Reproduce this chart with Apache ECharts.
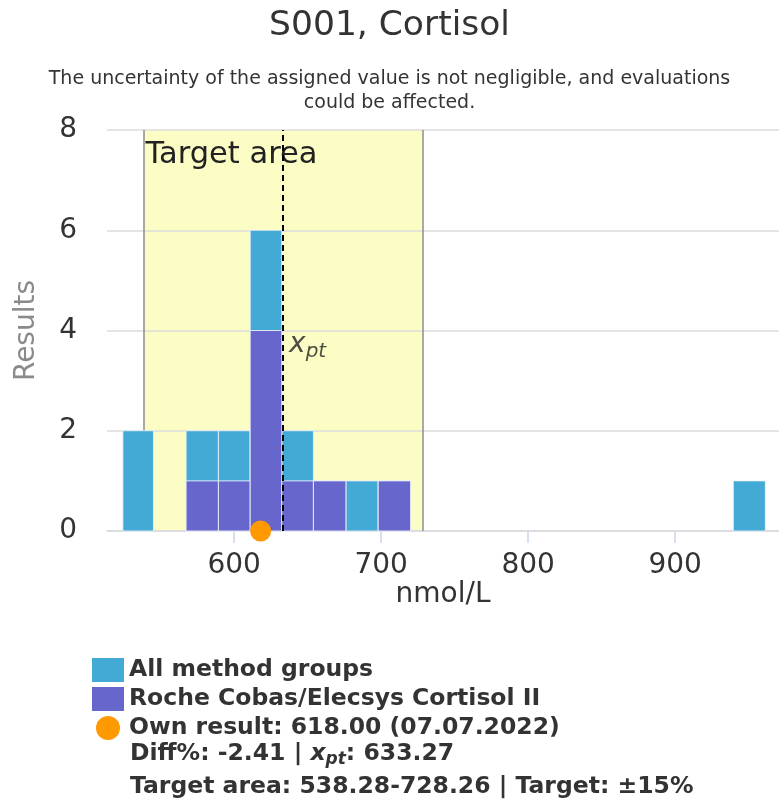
<!DOCTYPE html>
<html>
<head>
<meta charset="utf-8">
<script src="https://cdn.jsdelivr.net/npm/echarts@6/dist/echarts.min.js"></script>
<style>
html,body{margin:0;padding:0;background:#fff;}
#chart{width:779px;height:810px;}
</style>
</head>
<body>
<div id="chart"></div>
<script>
// ---- data ----
const binLow  = [524.3, 567.3, 589.3, 610.9, 632.4, 653.9, 676.0, 698.0, 939.5];
const binHigh = [545.1, 589.3, 610.9, 632.4, 653.9, 676.0, 698.0, 720.0, 961.3];
const allCounts   = [2, 2, 2, 6, 2, 1, 1, 1, 1];
const rocheCounts = [0, 1, 1, 4, 1, 1, 0, 1, 0];
const xTicks = [600, 700, 800, 900];
const yTicks = [0, 2, 4, 6, 8];
const ownResult = 618.00;
const ownDate = '07.07.2022';
const xpt = 633.27;
const diffPct = -2.41;
const targetLow = 538.28;
const targetHigh = 728.26;
const targetPct = 15;
const seriesNames = ['All method groups', 'Roche Cobas/Elecsys Cortisol II'];

const FONT = 'DejaVu Sans';
const ownName = 'Own result: ' + ownResult.toFixed(2) + ' (' + ownDate + ')';

function histData(counts) {
  return binLow.map((lo, i) => [lo, binHigh[i], counts[i]]);
}
function renderBar(params, api) {
  const v = api.value(2);
  if (!v) return null;
  const p0 = api.coord([api.value(0), v]);
  const p1 = api.coord([api.value(1), 0]);
  return {
    type: 'rect',
    shape: { x: p0[0], y: p0[1], width: p1[0] - p0[0], height: p1[1] - p0[1] },
    style: { fill: api.visual('color'), stroke: 'rgba(235,240,248,0.9)', lineWidth: 1 }
  };
}

const chart = echarts.init(document.getElementById('chart'), null, { renderer: 'canvas' });
const option = {
  animation: false,
  textStyle: { fontFamily: FONT },
  title: [
    { text: 'S001, Cortisol', left: 'center', top: 4,
      textStyle: { fontFamily: FONT, fontSize: 34.5, fontWeight: 'normal', color: '#333333' } },
    { text: 'The uncertainty of the assigned value is not negligible, and evaluations\ncould be affected.',
      left: 'center', top: 62,
      textStyle: { fontFamily: FONT, fontSize: 19, lineHeight: 24, fontWeight: 'normal', color: '#333333' } }
  ],
  grid: { left: 107, right: 0, top: 130, bottom: 279, containLabel: false },
  xAxis: {
    type: 'value', min: 513.5, max: 970.6,
    name: 'nmol/L', nameLocation: 'middle', nameGap: 45,
    nameTextStyle: { fontFamily: FONT, fontSize: 28, color: '#333333' },
    axisLine: { show: true, lineStyle: { color: '#ccd6eb', width: 1.5 } },
    axisTick: { show: true, length: 12, customValues: xTicks, lineStyle: { color: '#ccd6eb', width: 1.5 } },
    axisLabel: { customValues: xTicks, fontFamily: FONT, fontSize: 28, color: '#333333', margin: 21 },
    splitLine: { show: false }
  },
  yAxis: {
    type: 'value', min: 0, max: 8, interval: 2, z: 1,
    name: 'Results', nameLocation: 'middle', nameGap: 66,
    nameTextStyle: { fontFamily: FONT, fontSize: 28, color: '#8a8a8a' },
    axisLine: { show: false }, axisTick: { show: false },
    axisLabel: { fontFamily: FONT, fontSize: 28, color: '#333333', margin: 30 },
    splitLine: { show: true, lineStyle: { color: '#dcdcdc', width: 1.5 } }
  },
  legend: {
    orient: 'vertical', left: 87, top: 653,
    itemWidth: 32, itemHeight: 24, itemGap: 5,
    textStyle: { fontFamily: FONT, fontSize: 23.5, fontWeight: 'bold', color: '#333333' },
    selectedMode: false,
    data: [
      { name: seriesNames[0], icon: 'rect' },
      { name: seriesNames[1], icon: 'rect' },
      { name: ownName, icon: 'circle' }
    ]
  },
  graphic: [
    { type: 'text', left: 130, top: 742, z: 10,
      style: {
        text: '{b|Diff%: ' + diffPct.toFixed(2) + ' | }{x|x}{s|pt}{b|: ' + xpt.toFixed(2) + '}',
        rich: {
          b: { fontFamily: FONT, fontSize: 23.5, fontWeight: 'bold', fill: '#333333' },
          x: { fontFamily: FONT, fontSize: 23.5, fontWeight: 'bold', fontStyle: 'italic', fill: '#333333' },
          s: { fontFamily: FONT, fontSize: 17, fontWeight: 'bold', fontStyle: 'italic', fill: '#333333', padding: [12, 0, 0, 0] }
        }
      } },
    { type: 'text', left: 130, top: 775, z: 10,
      style: {
        text: 'Target area: ' + targetLow.toFixed(2) + '-' + targetHigh.toFixed(2) + ' | Target: \u00b1' + targetPct + '%',
        fontFamily: FONT, fontSize: 23.5, fontWeight: 'bold', fill: '#333333'
      } }
  ],
  series: [
    { // target area band
      name: 'target', type: 'line', data: [], z: 0, silent: true,
      markArea: {
        silent: true, z: 0,
        itemStyle: { color: '#fbfdc5' },
        label: { show: true, position: 'insideTopLeft', distance: 4, offset: [-2, 6], fontFamily: FONT, fontSize: 30.5, color: '#222222' },
        data: [[{ name: 'Target area', xAxis: targetLow, yAxis: 8 }, { xAxis: targetHigh, yAxis: 0 }]]
      }
    },
    { // target edges
      name: 'targetEdges', type: 'line', data: [], z: 1, silent: true,
      markLine: {
        silent: true, z: 1, symbol: ['none', 'none'], label: { show: false },
        lineStyle: { color: '#8c8c8c', width: 1.5, type: 'solid' },
        data: [{ xAxis: targetLow }, { xAxis: targetHigh }]
      }
    },
    {
      name: seriesNames[0], type: 'custom', z: 2,
      itemStyle: { color: '#43a9d5' },
      encode: { x: [0, 1], y: 2 },
      renderItem: renderBar,
      data: histData(allCounts)
    },
    {
      name: seriesNames[1], type: 'custom', z: 3,
      itemStyle: { color: '#6766cc' },
      encode: { x: [0, 1], y: 2 },
      renderItem: renderBar,
      data: histData(rocheCounts)
    },
    { // xpt line and label
      name: 'xpt', type: 'scatter', z: 5, silent: true,
      symbolSize: 0,
      data: [[xpt, 4]],
      label: {
        show: true, position: 'right', distance: 6, offset: [0, 14],
        formatter: '{x|x}{s|pt}',
        rich: {
          x: { fontFamily: FONT, fontSize: 28, fontStyle: 'italic', color: '#222222' },
          s: { fontFamily: FONT, fontSize: 20, fontStyle: 'italic', color: '#222222', padding: [14, 0, 0, 0] }
        }
      },
      markLine: {
        silent: true, z: 5, symbol: ['none', 'none'], label: { show: false },
        lineStyle: { color: '#000000', width: 2, type: [6, 4] },
        data: [{ xAxis: xpt }]
      }
    },
    {
      name: ownName, type: 'scatter', z: 6, clip: false,
      symbol: 'circle', symbolSize: 21,
      itemStyle: { color: '#ff9900', opacity: 1 },
      data: [[ownResult, 0]]
    }
  ]
};
chart.setOption(option);
</script>
</body>
</html>
